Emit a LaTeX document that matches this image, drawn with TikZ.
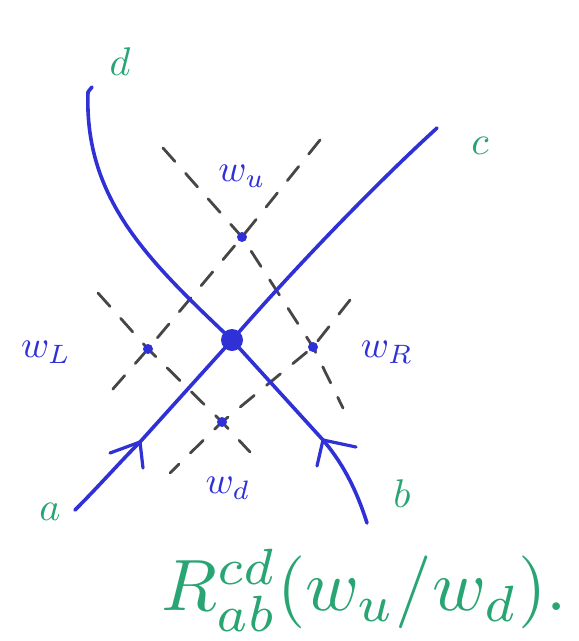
\documentclass[tikz,border=0pt]{standalone}
\definecolor{inkblue}{RGB}{48,48,215}
\definecolor{inkgreen}{RGB}{40,165,115}
\definecolor{inkgray}{RGB}{70,70,70}
\newcommand{\bigsym}[2]{\scalebox{#1}{$#2$}}
\begin{document}
\begin{tikzpicture}[x=1pt,y=-1pt,
  strand/.style={draw=inkblue,line width=3.6pt,line cap=round,line join=round},
  dualline/.style={draw=inkgray,line width=2.8pt,line cap=round,dash pattern=on 18pt off 16pt},
  facept/.style={circle,fill=inkblue,inner sep=0pt,minimum size=10pt},
  spin/.style={text=inkblue},
  ext/.style={text=inkgreen}]
\useasboundingbox[fill=white] (0,0) rectangle (579,641);
% face points
\coordinate (U) at (242,237);
\coordinate (L) at (148,349);
\coordinate (Rt) at (313,347);
\coordinate (D) at (222,422);
% dual (dashed) lines, square u-L-d-R with extended sides
\coordinate (u1) at (163,148);
\coordinate (r1) at (343,408);
\coordinate (u2) at (320,140);
\coordinate (l2) at (105,398);
\coordinate (l3) at (98,293);
\coordinate (d3) at (250,452);
\coordinate (r4) at (350,300);
\coordinate (d4) at (170,473);
\draw[dualline] (u1) -- (U) -- (Rt) -- (r1);
\draw[dualline] (u2) -- (U) -- (L) -- (l2);
\draw[dualline] (l3) -- (L) -- (D) -- (d3);
\draw[dualline] (r4) -- (Rt) -- (D) -- (d4);
% strands
\coordinate (C) at (232,340);
\coordinate (dend) at (88,92);
\coordinate (cend) at (437,128);
\coordinate (aend) at (75,510);
\coordinate (bend) at (367,523);
\coordinate (aarr) at (140,442);
\coordinate (barr) at (323,440);
\coordinate (aw1) at (110,453);
\coordinate (aw2) at (143,468);
\coordinate (bw1) at (356,447);
\coordinate (bw2) at (317,466);
\draw[strand] (C) .. controls (150,262) and (84,200) .. (dend);
\draw[strand] (dend) -- (92,87);
\draw[strand] (C) .. controls (300,262) and (380,180) .. (cend);
\draw[strand] (aend) .. controls (100,485) and (120,462) .. (aarr) -- (C);
\draw[strand] (bend) .. controls (355,485) and (340,460) .. (barr) -- (C);
\draw[strand,line width=3.2pt] (aw1) -- (aarr) -- (aw2);
\draw[strand,line width=3.2pt] (bw1) -- (barr) -- (bw2);
\node[circle,fill=inkblue,inner sep=0pt,minimum size=22pt] (vertex) at (C) {};
\node[facept] (pu) at (U) {};
\node[facept] (pl) at (L) {};
\node[facept] (pr) at (Rt) {};
\node[facept] (pd) at (D) {};
% labels
\node[ext] (la) at (50,512) {\bigsym{4}{a}};
\node[ext] (lb) at (402,494) {\bigsym{4}{b}};
\node[ext] (lc) at (480,146) {\bigsym{4}{c}};
\node[ext] (ld) at (120,62) {\bigsym{4}{d}};
\node[spin] (wu) at (242,176) {\bigsym{3.8}{w_u}};
\node[spin] (wl) at (46,352) {\bigsym{3.8}{w_L}};
\node[spin] (wr) at (387,352) {\bigsym{3.8}{w_R}};
\node[spin] (wd) at (228,488) {\bigsym{3.8}{w_d}};
\node[text=inkgreen,anchor=west] (formula) at (158,590) {\resizebox{405pt}{!}{$R^{cd}_{ab}(w_u/w_d).$}};
\end{tikzpicture}
\end{document}
